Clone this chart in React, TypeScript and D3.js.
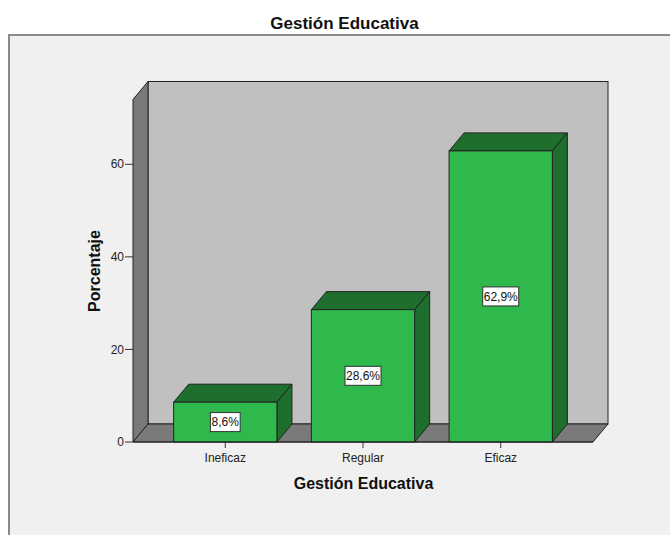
import React from "react";
import * as d3 from "d3";

// Distribución de la variable Gestión Educativa (porcentaje)
const categories: string[] = ["Ineficaz", "Regular", "Eficaz"];
const percentages: number[] = [8.6, 28.6, 62.9];
const valueLabels: string[] = ["8,6%", "28,6%", "62,9%"];
const yTicks: number[] = [0, 20, 40, 60];

const W = 670;
const H = 535;
const FONT = "'Liberation Sans', Arial, sans-serif";

// 3D depth offsets
const DX = 15;
const DY = -18;

const x = d3
  .scaleBand<string>()
  .domain(categories)
  .range([133, 593])
  .paddingInner(0.25)
  .paddingOuter(0.295);

const y = d3.scaleLinear().domain([0, 74]).range([442, 99.5]);

function pts(p: [number, number][]): string {
  return p.map((q) => q.join(",")).join(" ");
}

export default function App() {
  const x0 = x.range()[0];
  const x1 = x.range()[1];
  const y0 = y(0);
  const yTop = y(y.domain()[1]);
  const bw = x.bandwidth();
  const stroke = "#222";
  const frontGreen = "#2fb84b";
  const darkGreen = "#1e6f2e";

  const measure = (s: string) => s.length * 6.2;

  return (
    <svg
      width={W}
      height={H}
      style={{ position: "absolute", left: 0, top: 0, background: "#fff" }}
      fontFamily={FONT}
    >
      {/* chart frame */}
      <rect x={9} y={35} width={700} height={600} fill="#f0f0f0" stroke="#8a8a8a" strokeWidth={2} />

      <text
        x={344.5}
        y={29}
        textAnchor="middle"
        fontSize={17}
        fontWeight="bold"
        fill="#111"
      >
        Gestión Educativa
      </text>

      {/* back wall */}
      <rect
        x={x0 + DX}
        y={yTop + DY}
        width={x1 - x0}
        height={y0 - yTop}
        fill="#c0c0c0"
        stroke={stroke}
        strokeWidth={1}
      />
      {/* left wall */}
      <polygon
        points={pts([
          [x0, y0],
          [x0, yTop],
          [x0 + DX, yTop + DY],
          [x0 + DX, y0 + DY],
        ])}
        fill="#7a7a7a"
        stroke={stroke}
        strokeWidth={1}
      />
      {/* floor */}
      <polygon
        points={pts([
          [x0, y0],
          [x0 + DX, y0 + DY],
          [x1 + DX, y0 + DY],
          [x1, y0],
        ])}
        fill="#7a7a7a"
        stroke={stroke}
        strokeWidth={1}
      />

      {/* y axis ticks */}
      {yTicks.map((t) => (
        <g key={t}>
          <line x1={x0 - 8} x2={x0} y1={y(t)} y2={y(t)} stroke="#333" strokeWidth={1} />
          <text
            x={x0 - 9}
            y={y(t)}
            dy="0.35em"
            textAnchor="end"
            fontSize={12}
            fill="#222"
          >
            {t}
          </text>
        </g>
      ))}

      {/* bars */}
      {categories.map((c, i) => {
        const bx = x(c) as number;
        const by = y(percentages[i]);
        const cx = bx + bw / 2;
        const cy = (by + y0) / 2;
        const lw = measure(valueLabels[i]) + 5;
        return (
          <g key={c}>
            <polygon
              points={pts([
                [bx, by],
                [bx + DX, by + DY],
                [bx + bw + DX, by + DY],
                [bx + bw, by],
              ])}
              fill={darkGreen}
              stroke={stroke}
              strokeWidth={1}
            />
            <polygon
              points={pts([
                [bx + bw, by],
                [bx + bw + DX, by + DY],
                [bx + bw + DX, y0 + DY],
                [bx + bw, y0],
              ])}
              fill={darkGreen}
              stroke={stroke}
              strokeWidth={1}
            />
            <rect
              x={bx}
              y={by}
              width={bw}
              height={y0 - by}
              fill={frontGreen}
              stroke={stroke}
              strokeWidth={1}
            />
            <rect
              x={cx - lw / 2}
              y={cy - 9.5}
              width={lw}
              height={19}
              fill="#fff"
              stroke="#333"
              strokeWidth={1}
            />
            <text x={cx} y={cy} dy="0.36em" textAnchor="middle" fontSize={12} fill="#111">
              {valueLabels[i]}
            </text>
            <line x1={cx} x2={cx} y1={y0} y2={y0 + 6} stroke="#333" strokeWidth={1} />
            <text x={cx} y={461.5} textAnchor="middle" fontSize={12} fill="#222">
              {c}
            </text>
          </g>
        );
      })}

      {/* axis line along the front edge */}
      <line x1={x0} x2={x1} y1={y0} y2={y0} stroke={stroke} strokeWidth={1} />

      <text
        x={363.5}
        y={489}
        textAnchor="middle"
        fontSize={16}
        fontWeight="bold"
        fill="#111"
      >
        Gestión Educativa
      </text>
      <text
        transform="translate(100,271) rotate(-90)"
        textAnchor="middle"
        fontSize={16}
        fontWeight="bold"
        fill="#111"
      >
        Porcentaje
      </text>
    </svg>
  );
}
